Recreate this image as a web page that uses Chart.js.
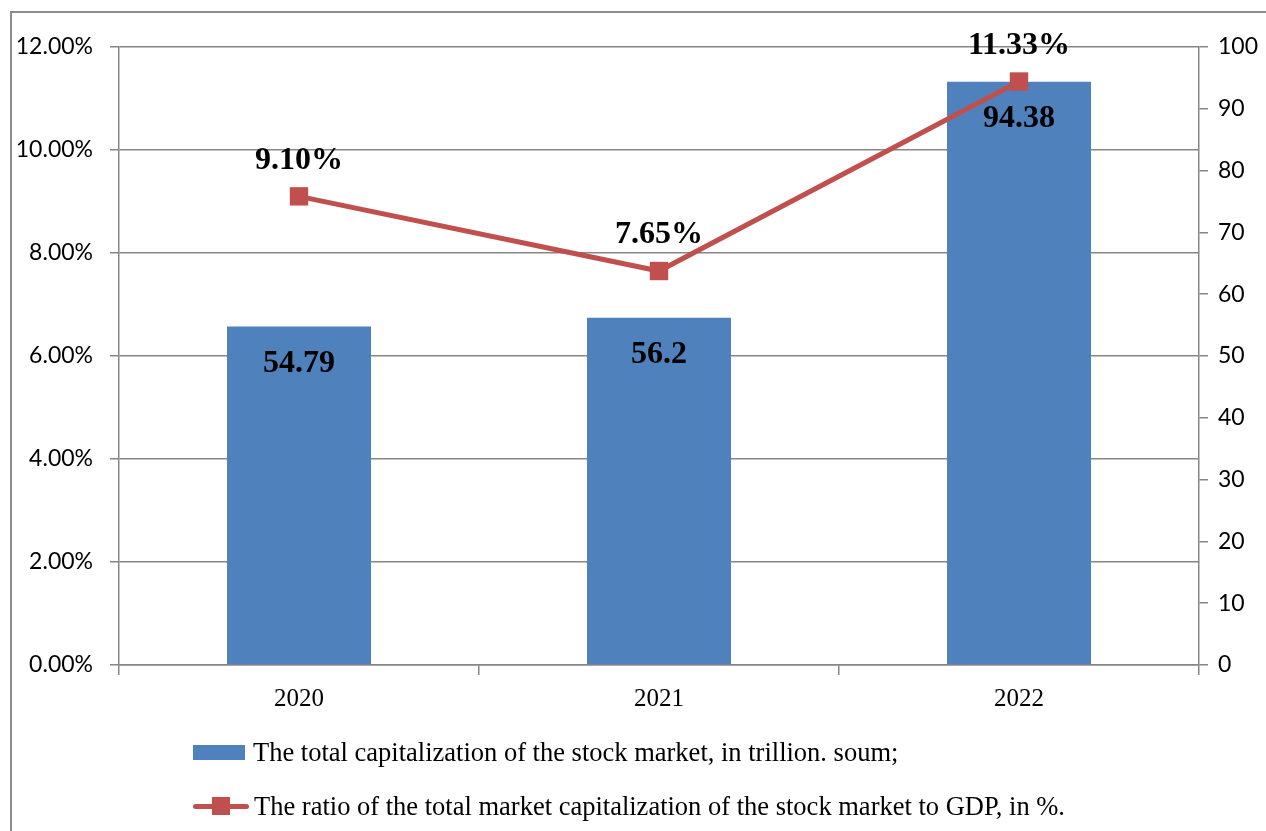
<!DOCTYPE html>
<html>
<head>
<meta charset="utf-8">
<script src="https://cdn.jsdelivr.net/npm/chart.js@4"></script>
<style>
  body { margin: 0; background: #fff; }
  #wrap { position: relative; width: 1266px; height: 831px; }
  #frame { position: absolute; left: 10px; top: 11px; width: 1300px; height: 900px;
           border-left: 2px solid #8c8c8c; border-top: 2px solid #8c8c8c; }
  canvas { position: absolute; left: 0; top: 0; }
  .leg { position: absolute; left: 193px; font: 26.5px "Liberation Serif", serif; color: #000;
         white-space: nowrap; display: flex; align-items: center; }
  .box { display: inline-block; width: 52px; height: 15px; background: #4F81BD; margin-right: 8px; }
  .ln { position: relative; display: inline-block; width: 56px; height: 5px; background: #C0504D;
        border-radius: 3px; margin-right: 5px; }
  .ln i { position: absolute; left: 19px; top: -7px; width: 18px; height: 18px; background: #C0504D; }
</style>
</head>
<body>
<div id="wrap">
  <div id="frame"></div>
  <canvas id="chart" width="1266" height="831"></canvas>
  <div class="leg" style="top:737px"><span class="box"></span>The total capitalization of the stock market, in trillion. soum;</div>
  <div class="leg" style="top:791px"><span class="ln"><i></i></span>The ratio of the total market capitalization of the stock market to GDP, in %.</div>
</div>
<script>
const years = ['2020', '2021', '2022'];
const capitalization = [54.79, 56.2, 94.38];
const ratioToGdp = [9.10, 7.65, 11.33];

const gridGray = '#868686';

const labelPlugin = {
  id: 'valueLabels',
  afterDatasetsDraw(chart) {
    const ctx = chart.ctx;
    ctx.save();
    ctx.font = 'bold 32px "Liberation Serif", serif';
    ctx.fillStyle = '#000';
    ctx.textAlign = 'center';
    ctx.textBaseline = 'middle';
    chart.getDatasetMeta(1).data.forEach((el, i) => {
      ctx.fillText(String(capitalization[i]), el.x, el.y + 37);
    });
    chart.getDatasetMeta(0).data.forEach((el, i) => {
      ctx.fillText(ratioToGdp[i].toFixed(2) + '%', el.x, el.y - 36);
    });
    ctx.restore();
  }
};

new Chart(document.getElementById('chart'), {
  data: {
    labels: years,
    datasets: [
      {
        type: 'line',
        label: 'The ratio of the total market capitalization of the stock market to GDP, in %.',
        data: ratioToGdp.map(v => v / 100),
        yAxisID: 'yLeft',
        borderColor: '#C0504D',
        backgroundColor: '#C0504D',
        borderWidth: 5,
        pointStyle: 'rect',
        pointRadius: 13,
        pointBorderWidth: 0,
        tension: 0,
        order: 0
      },
      {
        type: 'bar',
        label: 'The total capitalization of the stock market, in trillion. soum;',
        data: capitalization,
        yAxisID: 'yRight',
        backgroundColor: '#4F81BD',
        categoryPercentage: 1,
        barPercentage: 0.4,
        order: 1
      }
    ]
  },
  options: {
    responsive: false,
    animation: false,
    layout: { padding: { top: 47, left: 0, right: 0, bottom: 0 } },
    plugins: { legend: { display: false }, tooltip: { enabled: false } },
    scales: {
      x: {
        offset: true,
        grid: { offset: true, drawOnChartArea: false, tickLength: 10, color: gridGray, lineWidth: 1.5 },
        border: { color: gridGray, width: 1.5 },
        ticks: { color: '#000', font: { family: '"Liberation Serif", serif', size: 25 }, padding: 9 },
        afterFit(scale) { scale.height = 166; }
      },
      yLeft: {
        position: 'left',
        min: 0,
        max: 0.12,
        ticks: {
          stepSize: 0.02,
          color: '#000',
          padding: 17,
          font: { family: 'Lato, sans-serif', size: 23 },
          callback: v => (v * 100).toFixed(2) + '%'
        },
        grid: { color: gridGray, lineWidth: 1.5, tickLength: 9 },
        border: { color: gridGray, width: 1.5 },
        afterFit(scale) { scale.width = 119; }
      },
      yRight: {
        position: 'right',
        min: 0,
        max: 100,
        ticks: {
          stepSize: 10,
          color: '#000',
          padding: 10,
          font: { family: 'Lato, sans-serif', size: 23 }
        },
        grid: { drawOnChartArea: false, color: gridGray, lineWidth: 1.5, tickLength: 9 },
        border: { color: gridGray, width: 1.5 },
        afterFit(scale) { scale.width = 67; }
      }
    }
  },
  plugins: [labelPlugin]
});
</script>
</body>
</html>
